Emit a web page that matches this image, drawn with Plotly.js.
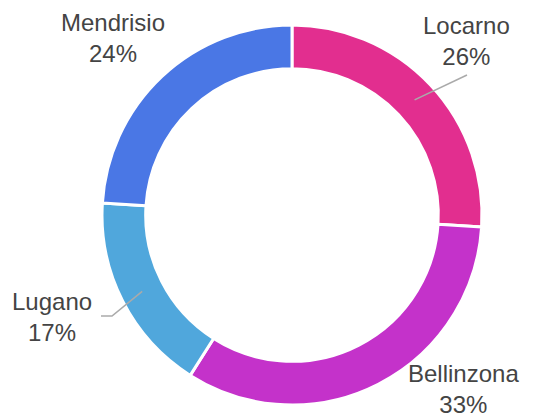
<!DOCTYPE html>
<html>
<head>
<meta charset="utf-8">
<script src="https://cdn.plot.ly/plotly-3.0.1.min.js"></script>
<style>html,body{margin:0;padding:0;background:#fff;}#chart{width:535px;height:417px;}</style>
</head>
<body>
<div id="chart"></div>
<script>
// ---- data ----
const labels = ["Locarno", "Bellinzona", "Lugano", "Mendrisio"];
const values = [26, 33, 17, 24];
const colors = ["#E22E8F", "#C432CA", "#50A7DC", "#4A77E5"];

// ---- layout constants (pixels in the 535x417 figure) ----
const W = 535, H = 417;
const CX = 292, CY = 215, R = 190, HOLE = 0.77;
// label block centres and optional leader-line ends (style/position only)
const labelPos = [
  { x: 466, y: 41,  line: [[467, 75]] },
  { x: 463, y: 389, line: null },
  { x: 52,  y: 317, line: [[112, 316], [101, 316]] },
  { x: 113, y: 38.5, line: null }
];

const px = x => x / W;
const py = y => 1 - y / H;

const total = values.reduce((a, b) => a + b, 0);
let cum = 0;
const annotations = [];
const shapes = [];
values.forEach((v, i) => {
  const frac = v / total;
  const mid = (cum + frac / 2) * 2 * Math.PI;
  cum += frac;
  const pct = Math.round(frac * 100) + "%";
  annotations.push({
    xref: "paper", yref: "paper",
    x: px(labelPos[i].x), y: py(labelPos[i].y),
    xanchor: "center", yanchor: "middle",
    text: labels[i] + "<br>" + pct,
    showarrow: false,
    align: "center",
    font: { family: "Liberation Sans, Arial, sans-serif", size: 24, color: "#444444" }
  });
  if (labelPos[i].line) {
    const rs = R * (1 + HOLE) / 2;
    let path = "M" + px(CX + rs * Math.sin(mid)) + "," + py(CY - rs * Math.cos(mid));
    labelPos[i].line.forEach(p => { path += " L" + px(p[0]) + "," + py(p[1]); });
    shapes.push({
      type: "path", xref: "paper", yref: "paper", path: path,
      line: { color: "#AAAAAA", width: 1.6 }
    });
  }
});

const trace = {
  type: "pie",
  labels: labels,
  values: values,
  sort: false,
  direction: "clockwise",
  rotation: 0,
  hole: HOLE,
  marker: { colors: colors, line: { color: "#ffffff", width: 3 } },
  textinfo: "none",
  showlegend: false,
  hoverinfo: "none",
  domain: { x: [px(CX - R), px(CX + R)], y: [py(CY + R), py(CY - R)] }
};

const layout = {
  width: W,
  height: H,
  margin: { l: 0, r: 0, t: 0, b: 0 },
  paper_bgcolor: "#ffffff",
  plot_bgcolor: "#ffffff",
  showlegend: false,
  annotations: annotations,
  shapes: shapes
};

Plotly.newPlot("chart", [trace], layout, { displayModeBar: false, staticPlot: true });
</script>
</body>
</html>
